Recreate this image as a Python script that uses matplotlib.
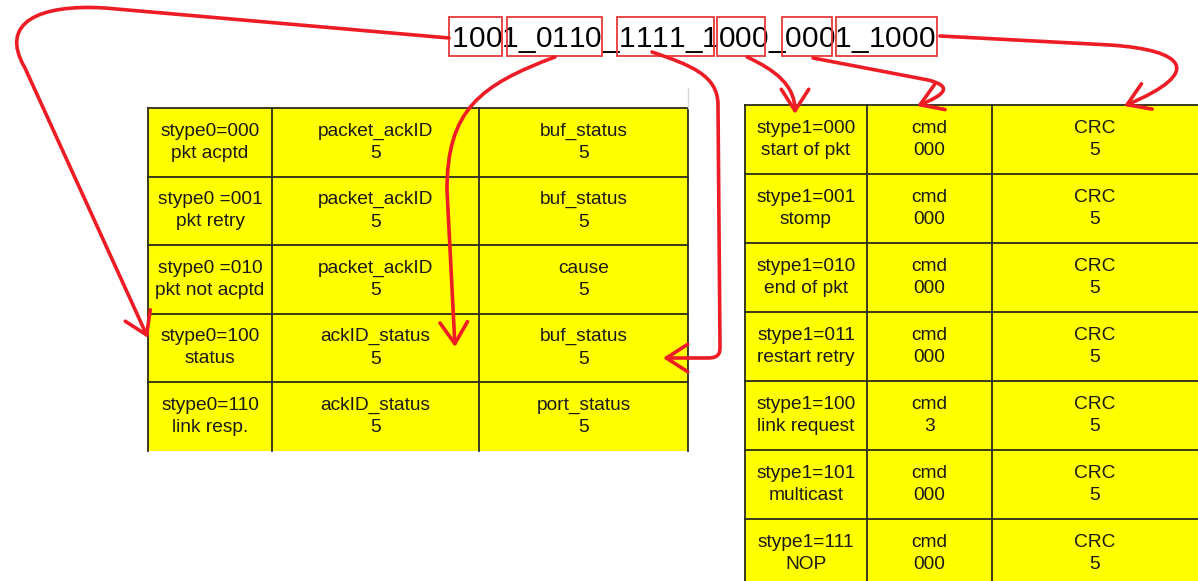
import matplotlib.pyplot as plt
from matplotlib.patches import Rectangle, FancyArrowPatch
from matplotlib.path import Path

plt.rcParams['font.family'] = ['Liberation Sans', 'DejaVu Sans']

# bit string, drawn char by char; red boxes over groups of characters
bit_string = '1001_0110_1111_1000_0001_1000'
bit_x0, bit_pitch = 452, 16.66
box_x = [(449, 502), (507, 602), (617, 714), (717, 765), (782, 832), (836, 937)]

# stype0 table
stype0_rows = [
    ['stype0=000\npkt acptd', 'packet_ackID\n5', 'buf_status\n5'],
    ['stype0 =001\npkt retry', 'packet_ackID\n5', 'buf_status\n5'],
    ['stype0 =010\npkt not acptd', 'packet_ackID\n5', 'cause\n5'],
    ['stype0=100\nstatus', 'ackID_status\n5', 'buf_status\n5'],
    ['stype0=110\nlink resp.', 'ackID_status\n5', 'port_status\n5'],
]
stype0_cols = [148, 272, 479, 688]
stype0_top, stype0_rowh = 108, 68.5

# stype1 table
stype1_rows = [
    ['stype1=000\nstart of pkt', 'cmd\n000', 'CRC\n5'],
    ['stype1=001\nstomp', 'cmd\n000', 'CRC\n5'],
    ['stype1=010\nend of pkt', 'cmd\n000', 'CRC\n5'],
    ['stype1=011\nrestart retry', 'cmd\n000', 'CRC\n5'],
    ['stype1=100\nlink request', 'cmd\n3', 'CRC\n5'],
    ['stype1=101\nmulticast', 'cmd\n000', 'CRC\n5'],
    ['stype1=111\nNOP', 'cmd\n000', 'CRC\n5'],
]
stype1_cols = [745, 867, 992, 1198]
stype1_top, stype1_rowh = 105, 69

YELLOW = '#ffff00'
GRID = '#2b2b1a'
RED = '#ee1c25'


def draw_table(ax, rows, cols, top, rowh, bottom_line=True, right_line=True):
    n = len(rows)
    bottom = top + n * rowh
    ax.add_patch(Rectangle((cols[0], top), cols[-1] - cols[0], n * rowh,
                           facecolor=YELLOW, edgecolor='none', zorder=1))
    for i in range(n + 1):
        if i == n and not bottom_line:
            continue
        y = top + i * rowh
        ax.plot([cols[0], cols[-1]], [y, y], color=GRID, lw=1.3, zorder=2)
    for j, x in enumerate(cols):
        if j == len(cols) - 1 and not right_line:
            continue
        ax.plot([x, x], [top, bottom], color=GRID, lw=1.3, zorder=2)
    for i, row in enumerate(rows):
        yc = top + (i + 0.5) * rowh
        for j, txt in enumerate(row):
            xc = (cols[j] + cols[j + 1]) / 2
            ax.text(xc, yc, txt, ha='center', va='center', multialignment='center',
                    fontsize=13.8, color='#1a1a1a', linespacing=1.42, zorder=3)


def arrow(ax, verts, codes):
    p = FancyArrowPatch(path=Path(verts, codes),
                        arrowstyle='->,head_length=0.7,head_width=0.45',
                        mutation_scale=22, color=RED, lw=2.6,
                        capstyle='round', joinstyle='round', zorder=5)
    ax.add_patch(p)


fig = plt.figure(figsize=(11.98, 5.81), dpi=100)
ax = fig.add_axes([0, 0, 1, 1])
ax.set_xlim(0, 1198)
ax.set_ylim(581, 0)
ax.axis('off')

draw_table(ax, stype0_rows, stype0_cols, stype0_top, stype0_rowh, bottom_line=False)
draw_table(ax, stype1_rows, stype1_cols, stype1_top, stype1_rowh, right_line=False)
ax.plot([688, 688], [88, 108], color='#d8d8d8', lw=1)

for k, ch in enumerate(bit_string):
    ax.text(bit_x0 + (k + 0.5) * bit_pitch, 47, ch, ha='center', va='baseline',
            fontsize=21.5, color='black', zorder=4)
for x0, x1 in box_x:
    ax.add_patch(Rectangle((x0, 17), x1 - x0, 39, facecolor='none',
                           edgecolor='#e8393c', lw=1.3, zorder=4))

M, L, C = Path.MOVETO, Path.LINETO, Path.CURVE4
arrow(ax, [(449, 38), (105, 8), (40, 4), (-2, 22), (25, 68), (148, 338)],
      [M, L, C, C, C, L])
arrow(ax, [(555, 57), (480, 85), (447, 110), (447, 190), (455, 347)],
      [M, C, C, C, L])
arrow(ax, [(652, 52), (690, 65), (718, 75), (718, 105), (720, 346),
           (720, 352), (720, 358), (708, 358), (663, 358)],
      [M, C, C, C, L, C, C, C, L])
arrow(ax, [(747, 57), (775, 70), (795, 85), (795, 114)], [M, C, C, C])
arrow(ax, [(813, 58), (928, 80), (952, 86), (947, 94), (917, 106)],
      [M, L, C, C, C])
arrow(ax, [(940, 36), (1110, 45), (1185, 50), (1205, 72), (1124, 106)],
      [M, L, C, C, C])

fig.savefig('out.png', dpi=100)
